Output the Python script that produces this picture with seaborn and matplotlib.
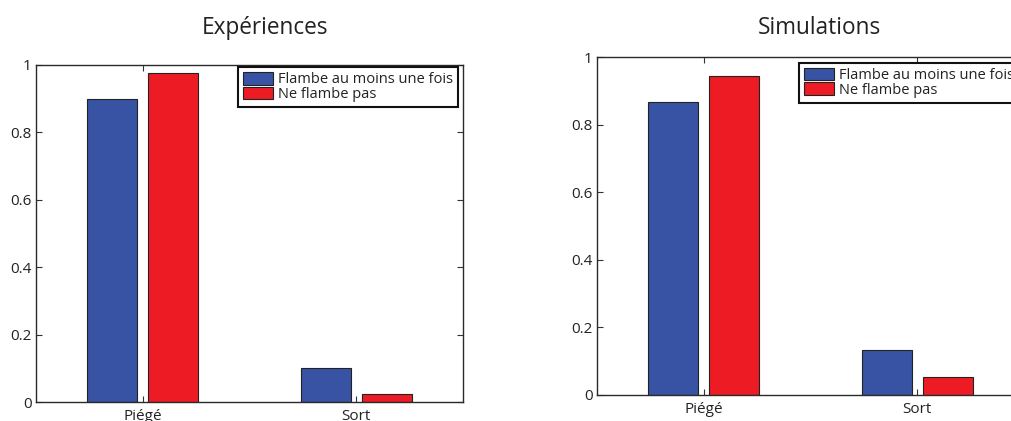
import matplotlib
matplotlib.use("Agg")
import matplotlib.pyplot as plt
import seaborn as sns
import pandas as pd

sns.set_theme(style="white")
plt.rcParams["font.family"] = ["Open Sans", "DejaVu Sans"]

categories = ["Piégé", "Sort"]
series = ["Flambe au moins une fois", "Ne flambe pas"]
experiences_flambe = [0.900, 0.100]
experiences_pas = [0.976, 0.024]
simulations_flambe = [0.867, 0.133]
simulations_pas = [0.946, 0.054]
yticks = [0, 0.2, 0.4, 0.6, 0.8, 1]
ytick_labels = ["0", "0.2", "0.4", "0.6", "0.8", "1"]

colors = {series[0]: "#3953A4", series[1]: "#ED1C24"}


def long_frame(flambe, pas):
    rows = []
    for cat, a, b in zip(categories, flambe, pas):
        rows.append({"cat": cat, "serie": series[0], "val": a})
        rows.append({"cat": cat, "serie": series[1], "val": b})
    return pd.DataFrame(rows)


fig = plt.figure(figsize=(10.11, 4.21), dpi=100)
ax1 = fig.add_axes([36 / 1011, 1 - 402 / 421, 427 / 1011, 337 / 421])
ax2 = fig.add_axes([597 / 1011, 1 - 395 / 421, 427 / 1011, 337.7 / 421])

panels = [
    (ax1, long_frame(experiences_flambe, experiences_pas), "Expériences", 0.536, 22, 0.994),
    (ax2, long_frame(simulations_flambe, simulations_pas), "Simulations", 0.521, 17, 0.984),
]

for ax, df, title, tx, tpad, ly in panels:
    sns.barplot(data=df, x="cat", y="val", hue="serie", hue_order=series,
                order=categories, palette=colors, width=0.572, gap=0.178,
                edgecolor="#222222", linewidth=0.8, saturation=1,
                errorbar=None, ax=ax)
    ax.set_xlim(-0.5, 1.5)
    ax.set_ylim(0, 1)
    ax.set_yticks(yticks)
    ax.set_yticklabels(ytick_labels)
    ax.set_xlabel("")
    ax.set_ylabel("")
    ax.tick_params(axis="both", direction="in", length=4, width=0.8,
                   color="#333333", labelsize=11, labelcolor="#222222",
                   top=True, right=True, bottom=True, left=True)
    ax.tick_params(axis="y", pad=3)
    ax.tick_params(axis="x", pad=5)
    for sp in ax.spines.values():
        sp.set_visible(True)
        sp.set_color("#2a2a2a")
        sp.set_linewidth(1.0)
    ax.set_title(title, fontsize=16.3, color="#222222", x=tx, pad=tpad)
    leg = ax.legend(loc="upper right", bbox_to_anchor=(0.988, ly),
                    borderaxespad=0, fontsize=10.5, frameon=True,
                    fancybox=False, framealpha=1, edgecolor="#111111",
                    handlelength=2.1, handleheight=0.95, handletextpad=0.3,
                    labelspacing=-0.05, borderpad=0.35)
    leg.get_frame().set_linewidth(1.5)
    for t in leg.get_texts():
        t.set_color("#222222")

fig.savefig("out.png", dpi=100)
